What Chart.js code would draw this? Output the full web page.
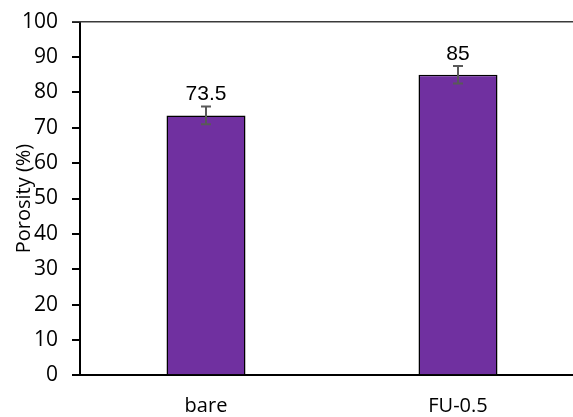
<!DOCTYPE html>
<html>
<head>
<meta charset="utf-8">
<script src="https://cdn.jsdelivr.net/npm/chart.js@4"></script>
<style>
  html, body { margin: 0; padding: 0; background: #fff; overflow: hidden; }
  #wrap { position: relative; width: 600px; height: 417px; }
</style>
</head>
<body>
<div id="wrap"><canvas id="c"></canvas></div>
<script>
// Porosity of the two membranes
const categories = ['bare', 'FU-0.5'];
const porosity = [73.5, 85];
const porosityError = [2.5, 2.5];
const yTicks = [0, 10, 20, 30, 40, 50, 60, 70, 80, 90, 100];
const yTitle = 'Porosity (%)';

// Value labels, error bars, top frame line and the rotated axis title
const extras = {
  id: 'extras',
  afterDatasetsDraw(chart) {
    const ctx = chart.ctx;
    const area = chart.chartArea;
    const y = chart.scales.y;
    const meta = chart.getDatasetMeta(0);

    // top frame line
    ctx.save();
    ctx.strokeStyle = '#3a3a3a';
    ctx.lineWidth = 1.5;
    ctx.beginPath();
    ctx.moveTo(area.left - 8, area.top);
    ctx.lineTo(chart.width, area.top);
    ctx.stroke();
    ctx.restore();

    meta.data.forEach((bar, i) => {
      const v = porosity[i];
      const e = porosityError[i];
      const x = bar.x;
      const yHi = y.getPixelForValue(v + e);
      const yLo = y.getPixelForValue(v - e);
      ctx.save();
      ctx.strokeStyle = '#595959';
      ctx.lineWidth = 2;
      ctx.beginPath();
      ctx.moveTo(x, yHi); ctx.lineTo(x, yLo);
      ctx.moveTo(x - 5, yHi); ctx.lineTo(x + 5, yHi);
      ctx.moveTo(x - 5, yLo); ctx.lineTo(x + 5, yLo);
      ctx.stroke();
      ctx.restore();

      ctx.save();
      ctx.fillStyle = '#000';
      ctx.font = '21px "Liberation Sans", Arial, sans-serif';
      ctx.textAlign = 'center';
      ctx.textBaseline = 'alphabetic';
      ctx.fillText(String(v), x, y.getPixelForValue(v) - 15);
      ctx.restore();
    });

    // y axis title
    ctx.save();
    ctx.fillStyle = '#000';
    ctx.font = '20px "Open Sans", sans-serif';
    ctx.textAlign = 'center';
    ctx.textBaseline = 'middle';
    ctx.translate(24, (area.top + area.bottom) / 2);
    ctx.rotate(-Math.PI / 2);
    ctx.fillText(yTitle, 0, 0);
    ctx.restore();
  }
};

new Chart(document.getElementById('c'), {
  type: 'bar',
  data: {
    labels: categories,
    datasets: [{
      data: porosity,
      backgroundColor: '#7030A0',
      borderColor: '#000000',
      borderWidth: 1.5,
      borderSkipped: 'bottom',
      barPercentage: 0.3135,
      categoryPercentage: 1
    }]
  },
  options: {
    responsive: true,
    maintainAspectRatio: false,
    animation: false,
    devicePixelRatio: 1,
    layout: { padding: { top: 21.7, right: 16, left: 0, bottom: 0 } },
    plugins: { legend: { display: false }, tooltip: { enabled: false } },
    scales: {
      x: {
        grid: { display: false, drawTicks: false },
        border: { display: true, color: '#000', width: 2 },
        ticks: {
          color: '#000',
          padding: 19,
          font: { family: '"Open Sans", sans-serif', size: 20 }
        },
        afterFit(scale) { scale.height = 41.7; }
      },
      y: {
        min: 0,
        max: 100,
        afterBuildTicks(scale) { scale.ticks = yTicks.map(v => ({ value: v })); },
        grid: { drawOnChartArea: false, drawTicks: true, tickLength: 8, color: '#000', lineWidth: 2 },
        border: { display: true, color: '#000', width: 2 },
        ticks: {
          color: '#000',
          padding: 14,
          font: { family: '"Open Sans", sans-serif', size: 21 }
        },
        afterFit(scale) {
          scale.width = 80;
          scale.paddingTop = 0;
          scale.paddingBottom = 0;
        }
      }
    }
  },
  plugins: [extras]
});
</script>
</body>
</html>
